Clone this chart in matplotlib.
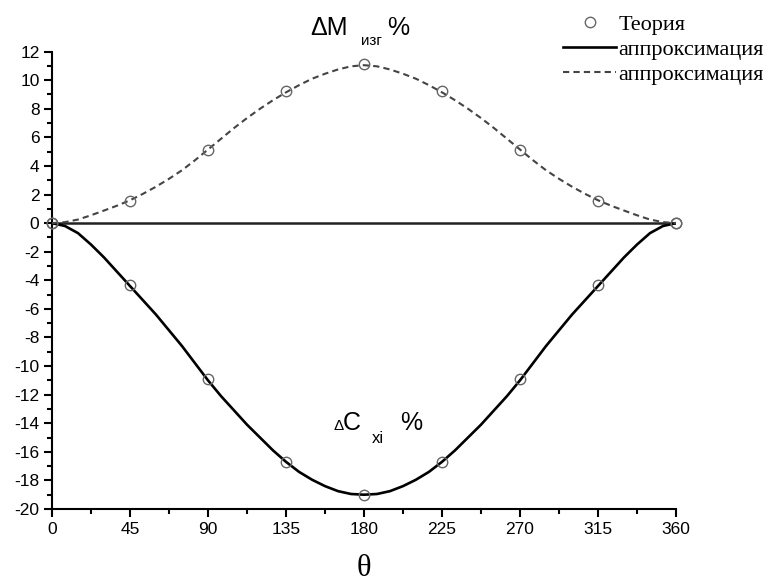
import matplotlib
matplotlib.use("Agg")
import matplotlib.pyplot as plt
from matplotlib.lines import Line2D

plt.rcParams["axes.unicode_minus"] = False

# Theory points
theta_pts = [0, 45, 90, 135, 180, 225, 270, 315, 360]
dm_pts = [0, 1.55, 5.15, 9.25, 11.1, 9.25, 5.15, 1.55, 0]
dc_pts = [0, -4.3, -10.9, -16.7, -19.0, -16.7, -10.9, -4.3, 0]

# Approximation curves (every 7.5 deg)
theta_fit = [i * 7.5 for i in range(49)]
dm_fit = [0, 0.07, 0.25, 0.55, 0.88, 1.22, 1.6, 2.05, 2.55, 3.1, 3.7, 4.4,
          5.15, 5.9, 6.65, 7.35, 8.0, 8.6, 9.15, 9.65, 10.1, 10.45, 10.75, 10.97,
          11.05,
          10.97, 10.75, 10.45, 10.1, 9.65, 9.15, 8.6, 8.0, 7.35, 6.65, 5.9, 5.15,
          4.4, 3.7, 3.1, 2.55, 2.05, 1.6, 1.22, 0.88, 0.55, 0.25, 0.07, 0]
dc_fit = [0, -0.2, -0.7, -1.5, -2.4, -3.4, -4.4, -5.4, -6.4, -7.5, -8.6, -9.8,
          -11.0, -12.1, -13.1, -14.1, -15.0, -15.9, -16.7, -17.4, -17.95, -18.4, -18.75, -18.95,
          -19.0,
          -18.95, -18.75, -18.4, -17.95, -17.4, -16.7, -15.9, -15.0, -14.1, -13.1, -12.1, -11.0,
          -9.8, -8.6, -7.5, -6.4, -5.4, -4.4, -3.4, -2.4, -1.5, -0.7, -0.2, 0]

x_ticks = [0, 45, 90, 135, 180, 225, 270, 315, 360]
y_ticks = list(range(-20, 13, 2))

SANS = ["Liberation Sans", "DejaVu Sans"]
SERIF = ["Liberation Serif", "DejaVu Serif"]

fig = plt.figure(figsize=(7.72, 5.88), dpi=100)
ax = fig.add_axes([52 / 772, 1 - 509 / 588, 624 / 772, 457.4 / 588])

# zero line
ax.plot([0, 360], [0, 0], color="#222222", lw=1.8, zorder=2)

ax.plot(theta_fit, dc_fit, color="black", lw=1.9, zorder=3)
ax.plot(theta_fit, dm_fit, color="#444444", lw=1.5, dashes=(3, 2), zorder=3)

ax.plot(theta_pts, dm_pts, ls="none", marker="o", ms=7.5, mfc="none",
        mec="#666666", mew=1.0, clip_on=False, zorder=4)
ax.plot(theta_pts, dc_pts, ls="none", marker="o", ms=7.5, mfc="none",
        mec="#666666", mew=1.0, clip_on=False, zorder=4)

ax.set_xlim(0, 360)
ax.set_ylim(-20, 12)
ax.set_xticks(x_ticks)
ax.set_xticks([22.5 + 45 * i for i in range(8)], minor=True)
ax.set_yticks(y_ticks)
ax.set_yticks(list(range(-19, 12, 2)), minor=True)

for s in ["top", "right"]:
    ax.spines[s].set_visible(False)
for s in ["left", "bottom"]:
    ax.spines[s].set_linewidth(1.5)

ax.tick_params(which="major", direction="out", length=6, width=1.5,
               labelsize=12.5, pad=3)
ax.tick_params(which="minor", direction="out", length=3.5, width=1.5)
for lab in ax.get_xticklabels() + ax.get_yticklabels():
    lab.set_family(SANS)

# legend
handles = [
    Line2D([], [], ls="none", marker="o", ms=7.5, mfc="none", mec="#666666", mew=1.0),
    Line2D([], [], color="black", lw=1.9),
    Line2D([], [], color="#444444", lw=1.5, dashes=(3, 2)),
]
labels = ["Теория", "аппроксимация", "аппроксимация"]
fig.legend(handles, labels, loc="upper left",
           bbox_to_anchor=(563 / 772, 1 - 14 / 588),
           bbox_transform=fig.transFigure, frameon=False, borderpad=0,
           borderaxespad=0, handlelength=2.4, handletextpad=0.1,
           labelspacing=0.2, prop={"family": SERIF, "size": 16})

# curve labels
def fy(py):
    return 1 - py / 588

fig.text(310 / 772, fy(35), "ΔM", family=SANS, fontsize=18, ha="left", va="baseline")
fig.text(361 / 772, fy(45), "изг", family=SANS, fontsize=11, ha="left", va="baseline")
fig.text(387 / 772, fy(35), "%", family=SANS, fontsize=18, ha="left", va="baseline")

fig.text(334 / 772, fy(430), "Δ", family=SANS, fontsize=11, ha="left", va="baseline")
fig.text(343 / 772, fy(430), "C", family=SANS, fontsize=18, ha="left", va="baseline")
fig.text(372 / 772, fy(443), "xi", family=SANS, fontsize=12, ha="left", va="baseline")
fig.text(400 / 772, fy(430), "%", family=SANS, fontsize=18, ha="left", va="baseline")

fig.text(364 / 772, fy(568), "θ", family=SERIF, fontsize=22, ha="center", va="center")

fig.savefig("out.png", dpi=100)
